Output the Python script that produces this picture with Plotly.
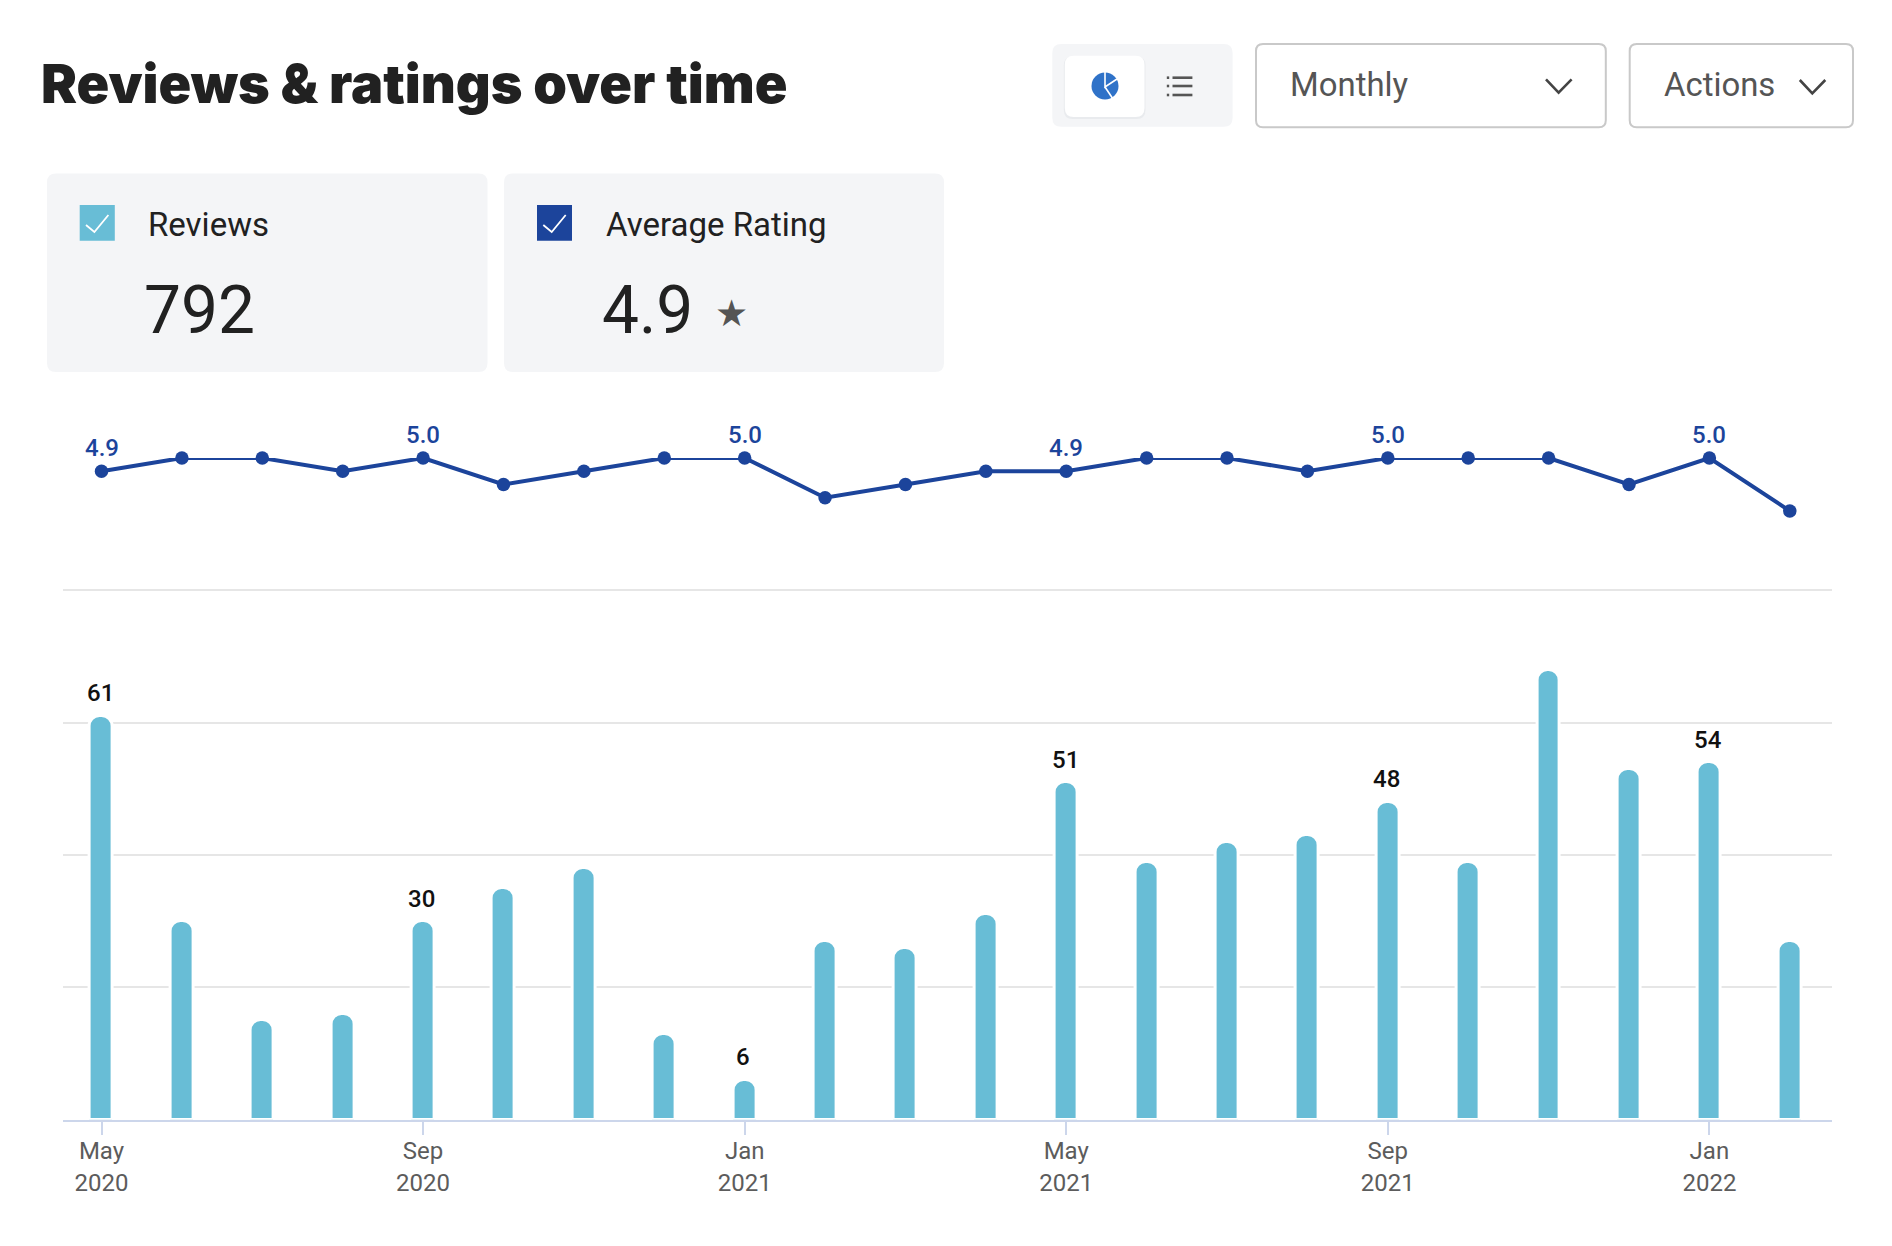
import plotly.graph_objects as go

W, H = 1892, 1246

months = ["May 2020","Jun 2020","Jul 2020","Aug 2020","Sep 2020","Oct 2020","Nov 2020","Dec 2020",
          "Jan 2021","Feb 2021","Mar 2021","Apr 2021","May 2021","Jun 2021","Jul 2021","Aug 2021",
          "Sep 2021","Oct 2021","Nov 2021","Dec 2021","Jan 2022","Feb 2022"]
reviews = [61,30,15,16,30,35,38,13,6,27,26,31,51,39,42,43,48,39,68,53,54,27]
ratings = [4.9,5.0,5.0,4.9,5.0,4.8,4.9,5.0,5.0,4.7,4.8,4.9,4.9,5.0,5.0,4.9,5.0,5.0,5.0,4.8,5.0,4.6]
labelled = ["May 2020","Sep 2020","Jan 2021","May 2021","Sep 2021","Jan 2022"]
tick_text = ["May<br>2020","Sep<br>2020","Jan<br>2021","May<br>2021","Sep<br>2021","Jan<br>2022"]

BAR = "#68bdd6"
NAVY = "#1c449b"
CARD = "#f4f5f7"

def fx(x): return x / W
def fy(y): return 1 - y / H

def rrect(x0, y0, x1, y1, r, fill, line=None, lw=0):
    X0, X1, Y0, Y1 = fx(x0), fx(x1), fy(y0), fy(y1)
    rx, ry = r / W, r / H
    p = (f"M {X0+rx} {Y0} L {X1-rx} {Y0} Q {X1} {Y0} {X1} {Y0-ry} L {X1} {Y1+ry} Q {X1} {Y1} {X1-rx} {Y1} "
         f"L {X0+rx} {Y1} Q {X0} {Y1} {X0} {Y1+ry} L {X0} {Y0-ry} Q {X0} {Y0} {X0+rx} {Y0} Z")
    return dict(type="path", xref="paper", yref="paper", path=p, fillcolor=fill, layer="below",
                line=dict(color=line or "rgba(0,0,0,0)", width=lw))

def poly(pts, color, lw, fill=None, close=False, cap=False):
    p = "M " + " L ".join(f"{fx(a)} {fy(b)}" for a, b in pts) + (" Z" if close else "")
    return dict(type="path", xref="paper", yref="paper", path=p, layer="above",
                fillcolor=fill or "rgba(0,0,0,0)", line=dict(color=color, width=lw))

def txt(x, y, s, size, color, family="Roboto", weight=400, anchor="left"):
    return dict(xref="paper", yref="paper", x=fx(x), y=fy(y), text=s, showarrow=False,
                xanchor=anchor, yanchor="middle", borderpad=0,
                font=dict(family=family, size=size, color=color, weight=weight))

fig = go.Figure()
fig.add_bar(x=months, y=reviews, yaxis="y", width=0.285, marker=dict(
    color=BAR, cornerradius=11, line=dict(color="white", width=3)), showlegend=False)
fig.add_scatter(x=months, y=ratings, yaxis="y2", mode="lines+markers", cliponaxis=False,
                line=dict(color=NAVY, width=4), marker=dict(color=NAVY, size=13.5), showlegend=False)

shapes = [
    rrect(47, 173.5, 487.5, 372, 9, CARD),
    rrect(504, 173.5, 944, 372, 9, CARD),
    rrect(79.7, 205, 114.8, 240.7, 0, BAR),
    rrect(537, 205, 572, 240.7, 0, NAVY),
    poly([(86, 225), (94.4, 232), (108.4, 215)], "white", 1.8),
    poly([(543.3, 225), (551.7, 232), (565.7, 215)], "white", 1.8),
    rrect(1052.3, 44, 1232.6, 126.7, 9, CARD),
    rrect(1063.8, 56.5, 1145.5, 119, 9, "#e9ebee"),
    rrect(1064.8, 55.7, 1144.5, 117, 9, "white"),
    rrect(1256, 44, 1605.8, 127.3, 7, "white", "#c9c9c9", 2),
    rrect(1629.7, 44, 1853, 127.3, 7, "white", "#c9c9c9", 2),
    poly([(1546, 79.3), (1558.6, 92.7), (1571.6, 79.3)], "#444444", 2.6),
    poly([(1799.8, 80), (1812.3, 93.3), (1825.3, 80)], "#444444", 2.6),
    dict(type="circle", xref="paper", yref="paper", x0=fx(1091.5), x1=fx(1118.5), y0=fy(99.5), y1=fy(72.5),
         fillcolor="#2f72c8", line=dict(width=0), layer="above"),
    poly([(1105, 72), (1105, 87), (1117, 79)], "white", 1.6),
    poly([(1105, 87), (1113, 99)], "white", 1.6),
]
for yy in (77.7, 86, 95):
    shapes.append(poly([(1172.5, yy), (1192.4, yy)], "#555555", 2.6))
    shapes.append(poly([(1166.8, yy), (1169.2, yy)], "#555555", 2.6))

notes = [
    txt(39.5, 84, "Reviews & ratings over time", 54, "#212121", "Inter", 900),
    txt(146.5, 224, "Reviews", 33, "#212121"),
    txt(604.5, 224, "Average Rating", 33, "#212121"),
    txt(142.5, 311, "792", 65.8, "#212121"),
    txt(600.5, 311, "4.9", 65.8, "#212121"),
    txt(731.5, 313.5, "★", 37, "#555555", "DejaVu Sans", 400, "center"),
    txt(1288.5, 85, "Monthly", 32.9, "#555555"),
    txt(1662.5, 85, "Actions", 32.9, "#555555"),
]
for m, v, r in zip(months, reviews, ratings):
    if m in labelled:
        notes.append(dict(x=m, y=v, xref="x", yref="y", text=str(v), showarrow=False, yshift=22.5, xshift=-1.2,
                          yanchor="middle", borderpad=0, font=dict(family="Roboto", size=24, color="#111111", weight=500)))
        notes.append(dict(x=m, y=r, xref="x", yref="y2", text=f"{r:.1f}", showarrow=False, yshift=23.5,
                          yanchor="middle", borderpad=0, font=dict(family="Roboto", size=24, color=NAVY, weight=500)))

fig.update_layout(
    width=W, height=H, autosize=False, margin=dict(l=0, r=0, t=0, b=0), paper_bgcolor="white", plot_bgcolor="white",
    bargap=0, font=dict(family="Roboto"), shapes=shapes, annotations=notes,
    xaxis=dict(type="category", categoryorder="array", categoryarray=months, domain=[fx(62.6), fx(1831.6)],
               range=[-0.484, 21.52], tickmode="array", tickvals=labelled, ticktext=tick_text,
               ticks="outside", ticklen=13, tickwidth=2, tickcolor="#ccd6eb", showline=True, linecolor="#ccd6eb",
               linewidth=2, showgrid=False, ticklabelstandoff=-4, tickfont=dict(family="Roboto", size=24, color="#5c5c5c")),
    yaxis=dict(domain=[fy(1119.5), fy(458)], range=[0, 100], dtick=20, showticklabels=False, showgrid=True,
               gridcolor="#e6e6e6", gridwidth=2, zeroline=False, ticks=""),
    yaxis2=dict(overlaying="y", range=[0, 5], visible=False, showgrid=False, zeroline=False),
)

fig.write_html("out.html", config=dict(displayModeBar=False),
               post_script="document.body.style.margin='0';document.body.style.overflow='hidden';")
